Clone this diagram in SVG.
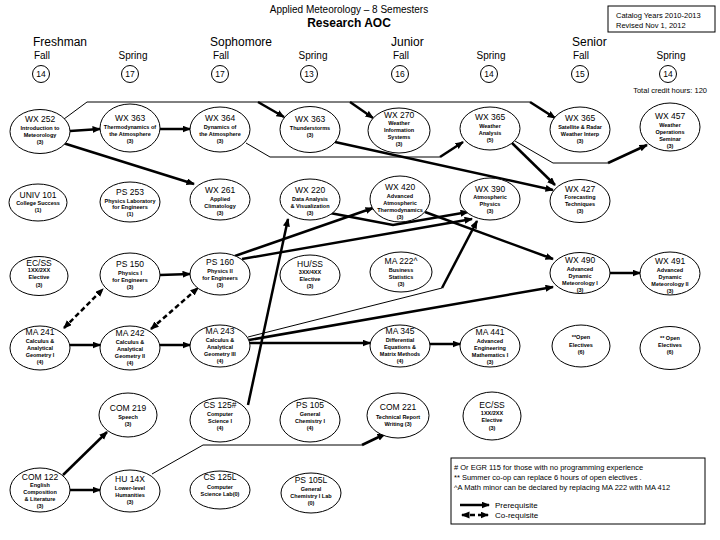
<svg xmlns="http://www.w3.org/2000/svg" width="720" height="540" viewBox="0 0 720 540">
<style>
text{font-family:"Liberation Sans",Arial,sans-serif;fill:#000}
.code{font-size:8.5px;text-anchor:middle}
.d{font-size:5.5px;font-weight:bold;text-anchor:middle}
.yr{font-size:12px}
.sem{font-size:10px;text-anchor:middle}
.cr{font-size:8.5px;text-anchor:middle}
.sm{font-size:7.5px}
ellipse,circle{fill:#fff;stroke:#000;stroke-width:1}
.k{stroke:#000;stroke-width:2.5;fill:none}
.t{stroke:#000;stroke-width:1;fill:none}
.a{marker-end:url(#ah)}
.dash{stroke:#000;stroke-width:2.5;fill:none;stroke-dasharray:5,3;marker-end:url(#ah);marker-start:url(#ah)}
</style>
<defs>
<marker id="ah" markerUnits="userSpaceOnUse" markerWidth="9" markerHeight="8" refX="7.5" refY="3.5" orient="auto-start-reverse" viewBox="0 0 9 8">
<path d="M0,0 L8.5,3.5 L0,7 z" fill="#000"/>
</marker>
</defs>
<rect width="720" height="540" fill="#fff"/>

<g id="header">
<text x="349" y="13" style="font-size:10px;text-anchor:middle">Applied Meteorology – 8 Semesters</text>
<text x="349" y="27" style="font-size:12px;font-weight:bold;text-anchor:middle">Research AOC</text>
<rect x="608" y="6" width="107" height="26" fill="none" stroke="#000" stroke-width="1"/>
<text x="616" y="18" class="sm">Catalog Years 2010-2013</text>
<text x="616" y="28" class="sm">Revised Nov 1, 2012</text>
<text x="33" y="46" class="yr">Freshman</text>
<text x="210" y="46" class="yr">Sophomore</text>
<text x="391" y="46" class="yr">Junior</text>
<text x="572" y="46" class="yr">Senior</text>
<text x="42" y="59" class="sem">Fall</text>
<text x="133" y="59" class="sem">Spring</text>
<text x="221" y="59" class="sem">Fall</text>
<text x="313" y="59" class="sem">Spring</text>
<text x="401" y="59" class="sem">Fall</text>
<text x="491" y="59" class="sem">Spring</text>
<text x="581" y="59" class="sem">Fall</text>
<text x="671" y="59" class="sem">Spring</text>
<circle cx="41" cy="74" r="8.5"/><text x="41" y="77" class="cr">14</text>
<circle cx="130" cy="74" r="8.5"/><text x="130" y="77" class="cr">17</text>
<circle cx="220" cy="74" r="8.5"/><text x="220" y="77" class="cr">17</text>
<circle cx="309" cy="74" r="8.5"/><text x="309" y="77" class="cr">13</text>
<circle cx="400" cy="74" r="8.5"/><text x="400" y="77" class="cr">16</text>
<circle cx="489" cy="74" r="8.5"/><text x="489" y="77" class="cr">14</text>
<circle cx="580" cy="74" r="8.5"/><text x="580" y="77" class="cr">15</text>
<circle cx="668" cy="74" r="8.5"/><text x="668" y="77" class="cr">14</text>
<text x="707" y="93" class="sm" style="text-anchor:end">Total credit hours: 120</text>
</g>

<g id="connectors">
<line class="k a" x1="70" y1="131" x2="100" y2="129"/>
<line class="k a" x1="160" y1="129" x2="190" y2="129"/>
<polyline class="t" points="64,119 87,102 530,102"/>
<line class="k a" x1="258" y1="102" x2="284" y2="117"/>
<line class="k a" x1="350" y1="102" x2="373" y2="118"/>
<line class="k a" x1="530" y1="102" x2="555" y2="118"/>
<polyline class="t" points="246,143 270,157 440,157"/>
<line class="k a" x1="440" y1="157" x2="463" y2="142"/>
<line class="k a" x1="335" y1="142" x2="553" y2="190"/>
<line class="k a" x1="512" y1="143" x2="555" y2="185"/>
<polyline class="t" points="515,141 553,163 608,163"/>
<line class="k a" x1="608" y1="163" x2="647" y2="145"/>
<line class="k a" x1="63" y1="143" x2="194" y2="184"/>
<line class="k a" x1="160" y1="275" x2="190" y2="274"/>
<line class="k a" x1="70" y1="345" x2="100" y2="345"/>
<line class="k a" x1="160" y1="345" x2="190" y2="345"/>
<line class="k a" x1="250" y1="343" x2="370" y2="343"/>
<line class="k a" x1="430" y1="344" x2="460" y2="344"/>
<line class="k a" x1="610" y1="273" x2="640" y2="273"/>
<line class="dash" x1="64" y1="328" x2="103" y2="289"/>
<line class="dash" x1="151" y1="329" x2="198" y2="288"/>
<line class="k a" x1="248" y1="405" x2="288" y2="219"/>
<line class="k a" x1="235" y1="256" x2="373" y2="208"/>
<line class="k a" x1="242" y1="259" x2="472" y2="219"/>
<polyline class="k a" points="330,213 393,225 468,212"/>
<line class="k a" x1="425" y1="212" x2="553" y2="259"/>
<line class="t" x1="248" y1="337" x2="442" y2="288"/>
<line class="k a" x1="442" y1="288" x2="477" y2="221"/>
<line class="k a" x1="249" y1="340" x2="553" y2="287"/>
<line class="k a" x1="63" y1="475" x2="107" y2="432"/>
<line class="k a" x1="70" y1="490" x2="100" y2="490"/>
<polyline class="t" points="152,474 203,445 362,445"/>
<line class="k a" x1="362" y1="445" x2="385" y2="434"/>
</g>

<g id="n_wx252"><ellipse cx="40" cy="131.5" rx="30" ry="22"/><text class="code" x="40" y="122">WX 252</text><text class="d" x="40" y="130">Introduction to</text><text class="d" x="40" y="137">Meteorology</text><text class="d" x="40" y="144">(3)</text></g>
<g id="n_wx363a"><ellipse cx="130" cy="128" rx="30" ry="24"/><text class="code" x="130" y="121">WX 363</text><text class="d" x="130" y="129">Thermodynamics of</text><text class="d" x="130" y="136">the Atmosphere</text><text class="d" x="130" y="143">(3)</text></g>
<g id="n_wx364"><ellipse cx="220" cy="129.5" rx="30" ry="22.5"/><text class="code" x="220" y="121">WX 364</text><text class="d" x="220" y="129">Dynamics of</text><text class="d" x="220" y="136">the Atmosphere</text><text class="d" x="220" y="143">(3)</text></g>
<g id="n_wx363b"><ellipse cx="310" cy="129.5" rx="30" ry="23"/><text class="code" x="310" y="122">WX 363</text><text class="d" x="310" y="130">Thunderstorms</text><text class="d" x="310" y="137">(3)</text></g>
<g id="n_wx270"><ellipse cx="399" cy="130.5" rx="31" ry="22.5"/><text class="code" x="399" y="118">WX 270</text><text class="d" x="399" y="125">Weather</text><text class="d" x="399" y="132">Information</text><text class="d" x="399" y="139">Systems</text><text class="d" x="399" y="146">(3)</text></g>
<g id="n_wx365a"><ellipse cx="490" cy="128.5" rx="30" ry="21.5"/><text class="code" x="490" y="120">WX 365</text><text class="d" x="490" y="128">Weather</text><text class="d" x="490" y="135">Analysis</text><text class="d" x="490" y="142">(5)</text></g>
<g id="n_wx365b"><ellipse cx="580" cy="129.5" rx="30" ry="22.5"/><text class="code" x="580" y="121">WX 365</text><text class="d" x="580" y="129">Satellite &amp; Radar</text><text class="d" x="580" y="136">Weather Interp</text><text class="d" x="580" y="143">(3)</text></g>
<g id="n_wx457"><ellipse cx="670" cy="127" rx="30" ry="24"/><text class="code" x="670" y="119">WX 457</text><text class="d" x="670" y="127">Weather</text><text class="d" x="670" y="134">Operations</text><text class="d" x="670" y="141">Seminar</text><text class="d" x="670" y="148">(3)</text></g>

<g id="n_univ101"><ellipse cx="38" cy="202.5" rx="29" ry="18.5"/><text class="code" x="38" y="198">UNIV 101</text><text class="d" x="38" y="205">College Success</text><text class="d" x="38" y="212">(1)</text></g>
<g id="n_ps253"><ellipse cx="130" cy="202" rx="30" ry="20"/><text class="code" x="130" y="195">PS 253</text><text class="d" x="130" y="203">Physics Laboratory</text><text class="d" x="130" y="209">for Engineers</text><text class="d" x="130" y="216">(1)</text></g>
<g id="n_wx261"><ellipse cx="220" cy="199.5" rx="30" ry="20.5"/><text class="code" x="220" y="193">WX 261</text><text class="d" x="220" y="201">Applied</text><text class="d" x="220" y="208">Climatology</text><text class="d" x="220" y="215">(3)</text></g>
<g id="n_wx220"><ellipse cx="310" cy="199.5" rx="30" ry="20.5"/><text class="code" x="310" y="193">WX 220</text><text class="d" x="310" y="201">Data Analysis</text><text class="d" x="310" y="208">&amp; Visualization</text><text class="d" x="310" y="215">(3)</text></g>
<g id="n_wx420"><ellipse cx="400" cy="199" rx="30" ry="23"/><text class="code" x="400" y="190">WX 420</text><text class="d" x="400" y="198">Advanced</text><text class="d" x="400" y="205">Atmospheric</text><text class="d" x="400" y="212">Thermodynamics</text><text class="d" x="400" y="219">(3)</text></g>
<g id="n_wx390"><ellipse cx="490" cy="199" rx="30" ry="21"/><text class="code" x="490" y="192">WX 390</text><text class="d" x="490" y="199">Atmospheric</text><text class="d" x="490" y="206">Physics</text><text class="d" x="490" y="213">(3)</text></g>
<g id="n_wx427"><ellipse cx="580" cy="201" rx="30" ry="21.5"/><text class="code" x="580" y="192">WX 427</text><text class="d" x="580" y="199">Forecasting</text><text class="d" x="580" y="206">Techniques</text><text class="d" x="580" y="213">(3)</text></g>

<g id="n_ecss1"><ellipse cx="39" cy="276" rx="29" ry="19.5"/><text class="code" x="39" y="266">EC/SS</text><text class="d" x="39" y="272">1XX/2XX</text><text class="d" x="39" y="279">Elective</text><text class="d" x="39" y="287">(3)</text></g>
<g id="n_ps150"><ellipse cx="130" cy="275" rx="30" ry="22"/><text class="code" x="130" y="267">PS 150</text><text class="d" x="130" y="275">Physics I</text><text class="d" x="130" y="282">for Engineers</text><text class="d" x="130" y="289">(3)</text></g>
<g id="n_ps160"><ellipse cx="220" cy="274" rx="30" ry="21"/><text class="code" x="220" y="265">PS 160</text><text class="d" x="220" y="273">Physics II</text><text class="d" x="220" y="280">for Engineers</text><text class="d" x="220" y="287">(3)</text></g>
<g id="n_huss"><ellipse cx="310" cy="275" rx="30" ry="20"/><text class="code" x="310" y="267">HU/SS</text><text class="d" x="310" y="274">3XX/4XX</text><text class="d" x="310" y="281">Elective</text><text class="d" x="310" y="288">(3)</text></g>
<g id="n_ma222"><ellipse cx="401" cy="272" rx="31" ry="20"/><text class="code" x="401" y="264">MA 222^</text><text class="d" x="401" y="272">Business</text><text class="d" x="401" y="279">Statistics</text><text class="d" x="401" y="286">(3)</text></g>
<g id="n_wx490"><ellipse cx="580" cy="273" rx="30" ry="20.5"/><text class="code" x="580" y="263">WX 490</text><text class="d" x="580" y="271">Advanced</text><text class="d" x="580" y="278">Dynamic</text><text class="d" x="580" y="285">Meteorology I</text><text class="d" x="580" y="292">(3)</text></g>
<g id="n_wx491"><ellipse cx="670" cy="273.5" rx="30" ry="21.5"/><text class="code" x="670" y="264">WX 491</text><text class="d" x="670" y="272">Advanced</text><text class="d" x="670" y="279">Dynamic</text><text class="d" x="670" y="286">Meteorology II</text><text class="d" x="670" y="293">(3)</text></g>

<g id="n_ma241"><ellipse cx="40" cy="348" rx="30" ry="22"/><text class="code" x="40" y="335">MA 241</text><text class="d" x="40" y="343">Calculus &amp;</text><text class="d" x="40" y="350">Analytical</text><text class="d" x="40" y="357">Geometry I</text><text class="d" x="40" y="364">(4)</text></g>
<g id="n_ma242"><ellipse cx="130" cy="348" rx="30" ry="22"/><text class="code" x="130" y="336">MA 242</text><text class="d" x="130" y="344">Calculus &amp;</text><text class="d" x="130" y="351">Analytical</text><text class="d" x="130" y="358">Geometry II</text><text class="d" x="130" y="365">(4)</text></g>
<g id="n_ma243"><ellipse cx="220" cy="346" rx="30" ry="21"/><text class="code" x="220" y="334">MA 243</text><text class="d" x="220" y="342">Calculus &amp;</text><text class="d" x="220" y="349">Analytical</text><text class="d" x="220" y="356">Geometry III</text><text class="d" x="220" y="363">(4)</text></g>
<g id="n_ma345"><ellipse cx="400" cy="346" rx="30" ry="21"/><text class="code" x="400" y="334">MA 345</text><text class="d" x="400" y="342">Differential</text><text class="d" x="400" y="349">Equations &amp;</text><text class="d" x="400" y="356">Matrix Methods</text><text class="d" x="400" y="363">(4)</text></g>
<g id="n_ma441"><ellipse cx="490" cy="346" rx="30" ry="21"/><text class="code" x="490" y="335">MA 441</text><text class="d" x="490" y="343">Advanced</text><text class="d" x="490" y="350">Engineering</text><text class="d" x="490" y="357">Mathematics I</text><text class="d" x="490" y="364">(3)</text></g>
<g id="n_open1"><ellipse cx="581" cy="346" rx="29" ry="21"/><text class="d" x="581" y="339">**Open</text><text class="d" x="581" y="347">Electives</text><text class="d" x="581" y="354">(6)</text></g>
<g id="n_open2"><ellipse cx="670" cy="348" rx="30" ry="21.5"/><text class="d" x="670" y="340">** Open</text><text class="d" x="670" y="347">Electives</text><text class="d" x="670" y="354">(6)</text></g>

<g id="n_com219"><ellipse cx="128" cy="415" rx="29" ry="22"/><text class="code" x="128" y="411">COM 219</text><text class="d" x="128" y="419">Speech</text><text class="d" x="128" y="426">(3)</text></g>
<g id="n_cs125"><ellipse cx="220" cy="420" rx="30" ry="22"/><text class="code" x="220" y="408">CS 125#</text><text class="d" x="220" y="416">Computer</text><text class="d" x="220" y="423">Science I</text><text class="d" x="220" y="430">(4)</text></g>
<g id="n_ps105"><ellipse cx="310" cy="420" rx="30" ry="22"/><text class="code" x="310" y="408">PS 105</text><text class="d" x="310" y="416">General</text><text class="d" x="310" y="423">Chemistry I</text><text class="d" x="310" y="430">(4)</text></g>
<g id="n_com221"><ellipse cx="398" cy="415.5" rx="31" ry="22.5"/><text class="code" x="398" y="410">COM 221</text><text class="d" x="398" y="419">Technical Report</text><text class="d" x="398" y="426">Writing (3)</text></g>
<g id="n_ecss2"><ellipse cx="492" cy="416" rx="29" ry="24"/><text class="code" x="492" y="408">EC/SS</text><text class="d" x="492" y="415">1XX/2XX</text><text class="d" x="492" y="422">Elective</text><text class="d" x="492" y="430">(3)</text></g>

<g id="n_com122"><ellipse cx="40" cy="490" rx="30" ry="22"/><text class="code" x="40" y="480">COM 122</text><text class="d" x="40" y="487">English</text><text class="d" x="40" y="494">Composition</text><text class="d" x="40" y="501">&amp; Literature</text><text class="d" x="40" y="508">(3)</text></g>
<g id="n_hu14x"><ellipse cx="130" cy="491" rx="30" ry="21"/><text class="code" x="130" y="482">HU 14X</text><text class="d" x="130" y="490">Lower-level</text><text class="d" x="130" y="497">Humanities</text><text class="d" x="130" y="504">(3)</text></g>
<g id="n_cs125l"><ellipse cx="220" cy="490" rx="30" ry="19"/><text class="code" x="220" y="480">CS 125L</text><text class="d" x="220" y="489">Computer</text><text class="d" x="220" y="496">Science Lab(0)</text></g>
<g id="n_ps105l"><ellipse cx="311" cy="493" rx="30" ry="20"/><text class="code" x="311" y="483">PS 105L</text><text class="d" x="311" y="491">General</text><text class="d" x="311" y="498">Chemistry I Lab</text><text class="d" x="311" y="505">(0)</text></g>

<g id="legend">
<rect x="451" y="458" width="254" height="66" fill="#fff" stroke="#000" stroke-width="1"/>
<text x="454" y="470" class="sm"># Or EGR 115 for those with no programming experience</text>
<text x="454" y="480" class="sm">** Summer co-op can replace 6 hours of open electives .</text>
<text x="454" y="490" class="sm">^A Math minor can be declared by replacing MA 222 with MA 412</text>
<line class="k a" x1="460" y1="505" x2="489" y2="505"/>
<text x="495" y="508" style="font-size:8px">Prerequisite</text>
<line class="dash" x1="462" y1="515" x2="488" y2="515"/>
<text x="495" y="518" style="font-size:8px">Co-requisite</text>
</g>
</svg>
